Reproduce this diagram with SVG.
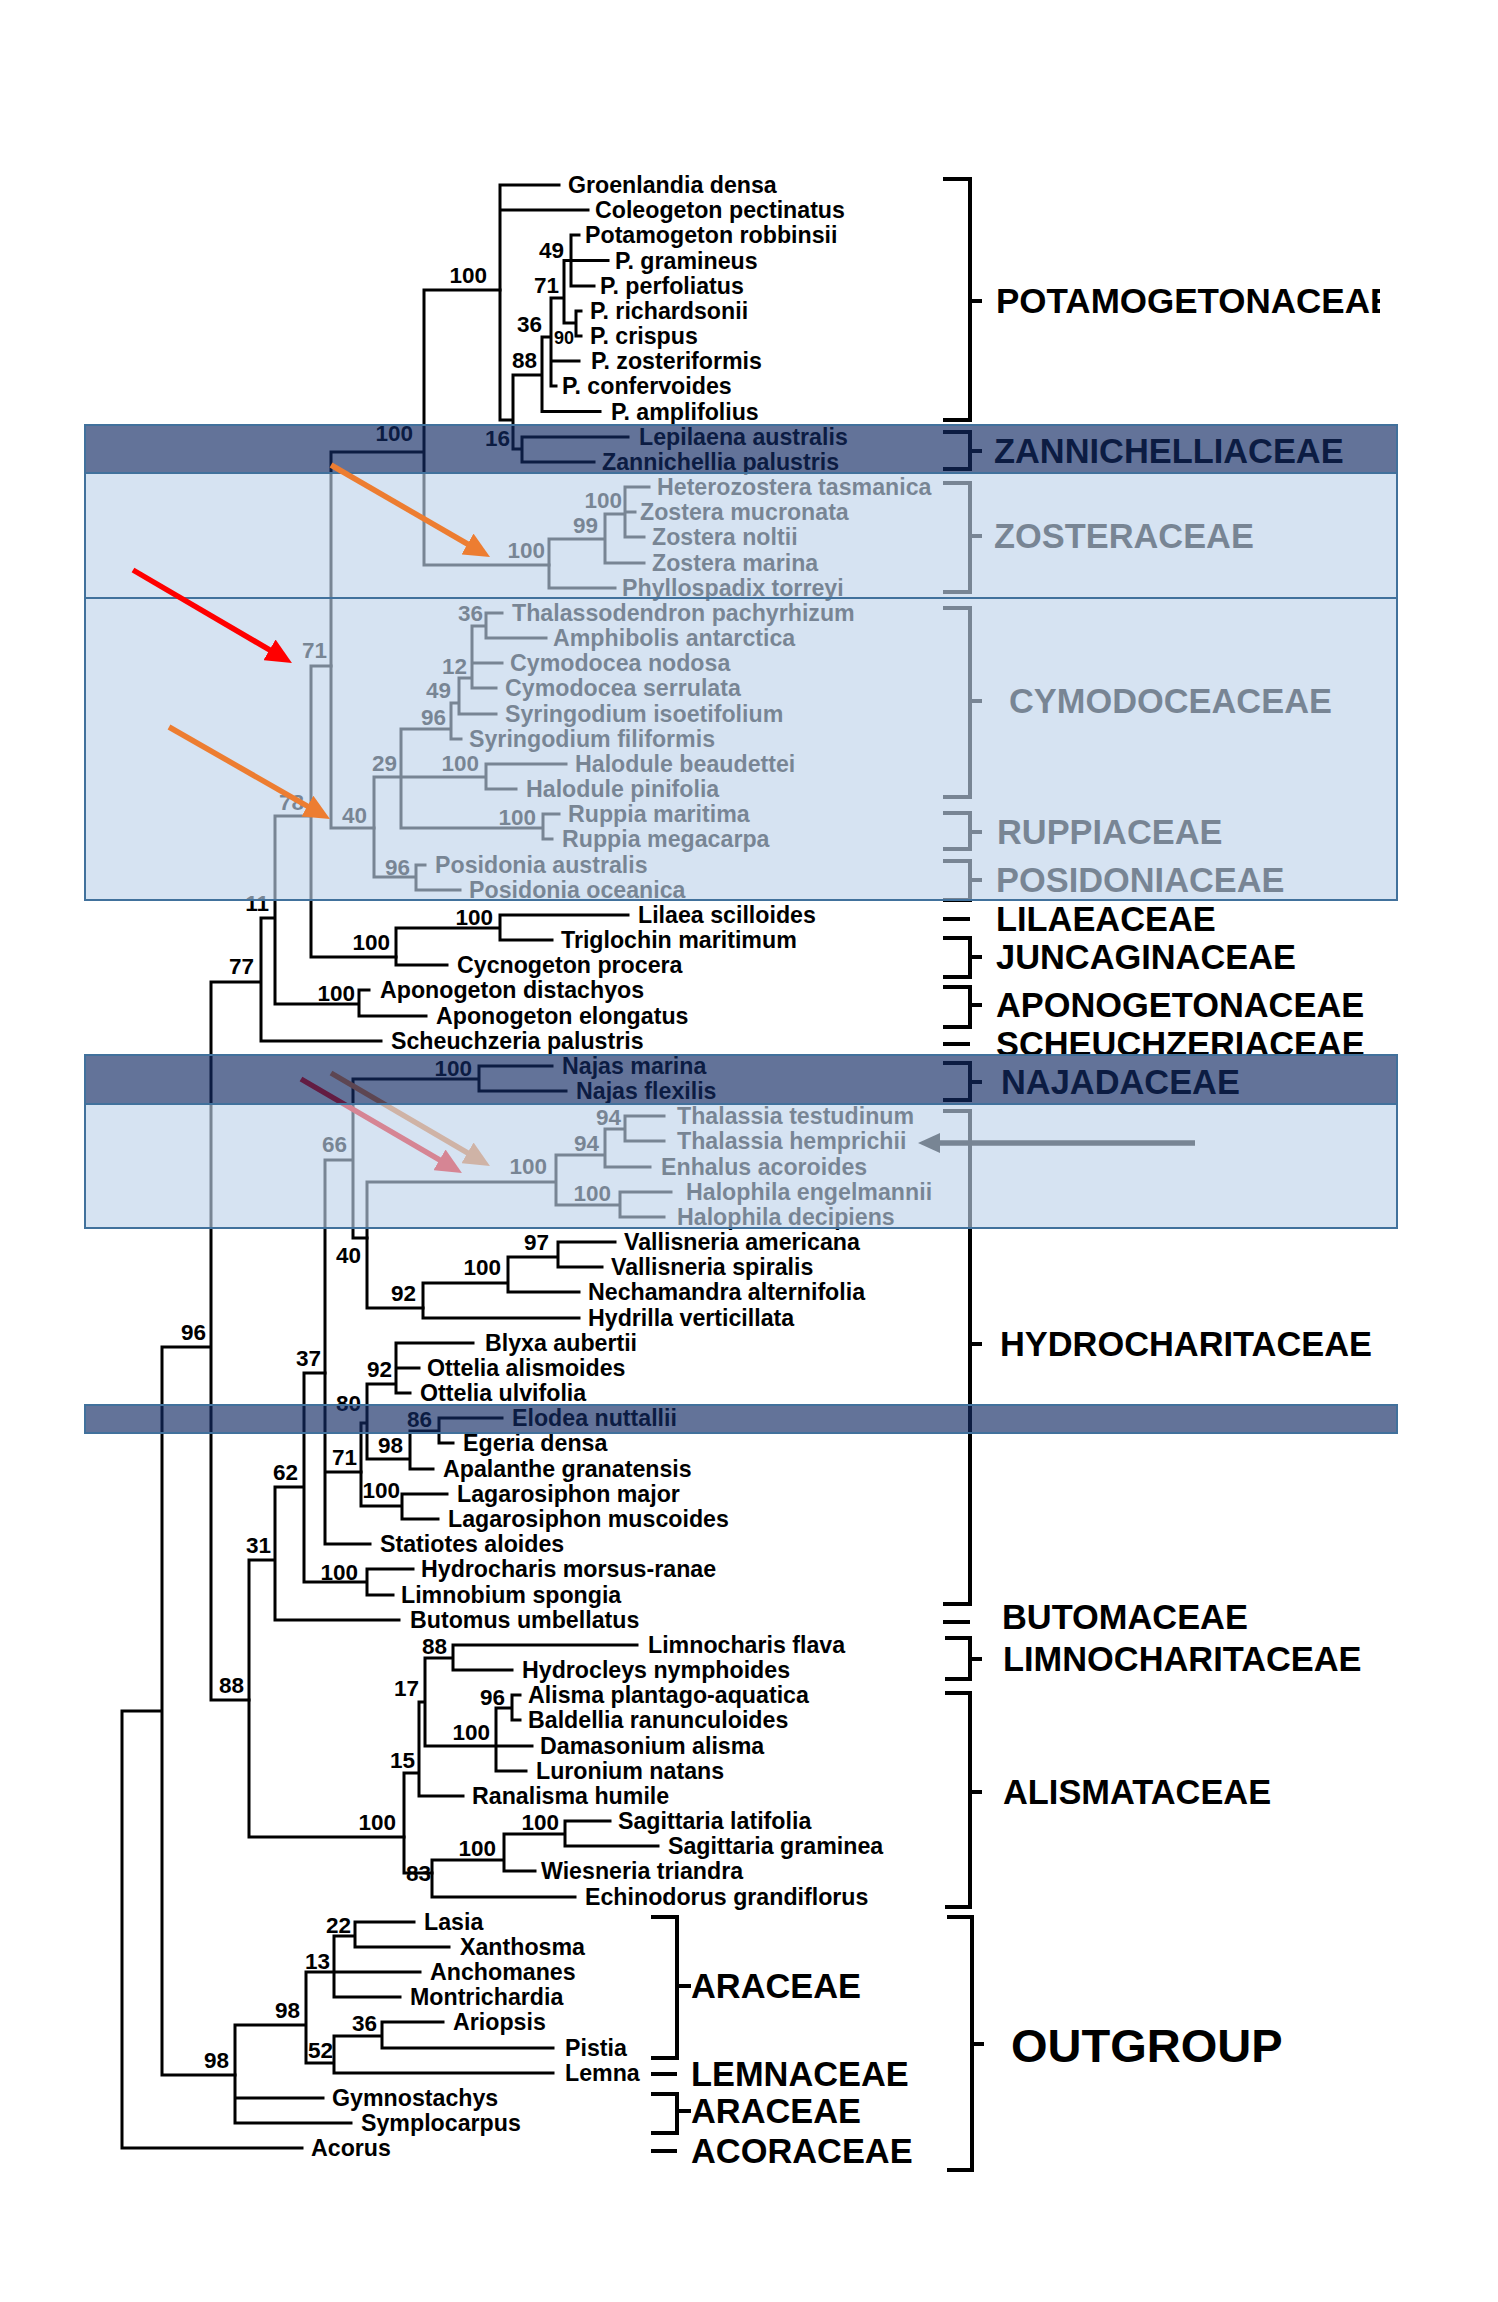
<svg xmlns="http://www.w3.org/2000/svg" width="1498" height="2302" viewBox="0 0 1498 2302">
<defs>
<style>
text{font-family:"Liberation Sans",Arial,sans-serif;font-weight:bold;fill:#000}
.t{font-size:23.2px}
.s{font-size:22.5px;text-anchor:end}
.ss{font-size:18px;text-anchor:end}
.f{font-size:34.4px}
.fp{font-size:35px}
.og{font-size:47px}
.tree{fill:none;stroke:#000;stroke-width:3;stroke-linecap:square}
.br{fill:none;stroke:#000;stroke-width:4}
.dark{fill:rgb(18,42,100);fill-opacity:0.66;stroke:#41719c;stroke-width:2}
.light{fill:rgb(190,210,235);fill-opacity:0.63;stroke:#41719c;stroke-width:2}
.ar{fill:none;stroke-width:5.5}
</style>
<marker id="ah-orange" markerUnits="userSpaceOnUse" markerWidth="26" markerHeight="24" refX="6" refY="12" orient="auto"><path d="M0,0 L26,12 L0,24 z" fill="#ED7D31"/></marker>
<marker id="ah-red" markerUnits="userSpaceOnUse" markerWidth="26" markerHeight="24" refX="6" refY="12" orient="auto"><path d="M0,0 L26,12 L0,24 z" fill="#FF0000"/></marker>
<marker id="ah-black" markerUnits="userSpaceOnUse" markerWidth="22" markerHeight="20" refX="4" refY="10" orient="auto"><path d="M0,0 L22,10 L0,20 z" fill="#000"/></marker>
<clipPath id="clipR"><rect x="0" y="0" width="1380" height="2302"/></clipPath>
</defs>
<rect x="0" y="0" width="1498" height="2302" fill="#fff"/>

<g id="connectors">
<path class="tree" d="M500 185V420H513 M500 185H559 M500 210H588 M513 375V449H522 M513 375H542 M542 337V411.5H600 M542 337H551 M551 298V386H556 M551 361H579 M551 298H564 M564 260.5V323H576 M564 260.5H571 M571 235V286H594 M571 235H579 M571 260.5H608 M576 311V336H581 M576 311H581 M522 437V462H594 M522 437H628"/>
<path class="tree" d="M424 290V565H549 M424 290H500 M331 452V828H374 M331 452H424"/>
<path class="tree" d="M549 539V588H615 M549 539H605 M605 514V563H644 M605 514H625 M625 487V537H644 M625 487H649 M625 512H635"/>
<path class="tree" d="M311 666V957H396 M311 666H331"/>
<path class="tree" d="M486 613V638H546 M486 613H502 M472 626V688H496 M472 626H486 M472 663H502 M459 678V714H496 M459 678H472 M451 703V739H461 M451 703H459 M401 729V828H543 M401 729H451 M374 777V877H416 M374 777H486 M486 764V789H516 M486 764H566 M543 814V839H552 M543 814H559 M416 865V890H460 M416 865H425"/>
<path class="tree" d="M396 928V965H447 M396 928H500 M500 915V940H552 M500 915H628"/>
<path class="tree" d="M275 816V1004H359 M275 816H311 M359 990V1016H426 M359 990H369 M261 918V1041H381 M261 918H275 M211 982V1700H249 M211 982H261 M162 1347V2075H235 M162 1347H211 M122 1711V2148H302 M122 1711H162"/>
<path class="tree" d="M249 1560V1837H404 M249 1560H275 M275 1487V1620H399 M275 1487H304 M304 1373V1582H367 M304 1373H325 M367 1569V1595H393 M367 1569H413"/>
<path class="tree" d="M325 1160V1544H370 M325 1160H353 M325 1472H361 M353 1079V1238H367 M353 1079H479 M479 1066V1091H566 M479 1066H552"/>
<path class="tree" d="M367 1182V1308H423 M367 1182H556 M556 1155V1205H620 M556 1155H605 M605 1129V1167H650 M605 1129H625 M625 1116V1141H664 M625 1116H664 M620 1192V1217H664 M620 1192H671"/>
<path class="tree" d="M423 1283V1318H579 M423 1283H508 M508 1257V1292H579 M508 1257H558 M558 1242V1267H602 M558 1242H615"/>
<path class="tree" d="M361 1423V1506H402 M361 1423H367 M402 1494V1519H438 M402 1494H447 M367 1384V1459H410 M367 1384H396 M396 1343V1393H410 M396 1343H473 M396 1368H419 M410 1431V1469H433 M410 1431H439 M439 1418V1443H453 M439 1418H502"/>
<path class="tree" d="M404 1773V1873H432 M404 1773H419 M419 1702V1796H463 M419 1702H425 M425 1658V1746H532 M425 1658H453 M453 1645V1670H512 M453 1645H637 M496 1708V1771H526 M496 1708H512 M512 1695V1720H520 M512 1695H520"/>
<path class="tree" d="M432 1860V1897H575 M432 1860H504 M504 1834V1871H535 M504 1834H565 M565 1821V1846H658 M565 1821H610"/>
<path class="tree" d="M235 2025V2123H351 M235 2025H306 M235 2098H323 M306 1972V2063H334 M306 1972H420 M334 1936V1997H400 M334 1936H355 M355 1922V1947H449 M355 1922H414 M334 2036V2073H553 M334 2036H382 M382 2022V2048H553 M382 2022H443"/>
<g id="brackets">
<path class="br" d="M943 179H970V420H943 M970 301H982"/>
<path class="br" d="M943 432H970V469H943 M970 451H982"/>
<path class="br" d="M943 483H970V592H943 M970 536H982"/>
<path class="br" d="M943 608H970V797H943 M970 701H982"/>
<path class="br" d="M943 813H970V849H943 M970 832H982"/>
<path class="br" d="M943 861H970V900H943 M970 880H982"/>
<path class="br" d="M943 919H970"/>
<path class="br" d="M943 938H970V977H943 M970 957H982"/>
<path class="br" d="M943 987H970V1027H943 M970 1005H982"/>
<path class="br" d="M943 1044H970"/>
<path class="br" d="M943 1063H970V1100H943 M970 1082H982"/>
<path class="br" d="M943 1111H970V1604H943 M970 1344H982"/>
<path class="br" d="M943 1622H970"/>
<path class="br" d="M945 1638H970V1679H945 M970 1659H982"/>
<path class="br" d="M945 1693H970V1907H945 M970 1792H982"/>
<path class="br" d="M947 1917H972V2170H947 M972 2044H984"/>
<path class="br" d="M651 1917H677V2058H651 M677 1986H691"/>
<path class="br" d="M651 2074H677"/>
<path class="br" d="M651 2094H677V2133H651 M677 2111H691"/>
<path class="br" d="M651 2151H677"/>
</g>
</g>

<g id="potamogetonaceae">
<text class="t" x="568" y="193">Groenlandia densa</text>
<text class="t" x="595" y="218">Coleogeton pectinatus</text>
<text class="t" x="585" y="243">Potamogeton robbinsii</text>
<text class="t" x="615" y="268.5">P. gramineus</text>
<text class="t" x="600" y="294">P. perfoliatus</text>
<text class="t" x="590" y="319">P. richardsonii</text>
<text class="t" x="590" y="344">P. crispus</text>
<text class="t" x="591" y="369">P. zosteriformis</text>
<text class="t" x="562" y="394">P. confervoides</text>
<text class="t" x="611" y="419.5">P. amplifolius</text>
<text class="s" x="487" y="283">100</text>
<text class="s" x="564" y="258">49</text>
<text class="s" x="559" y="293">71</text>
<text class="s" x="542" y="332">36</text>
<text class="ss" x="574" y="344">90</text>
<text class="s" x="537" y="368">88</text>
<text class="s" x="510" y="446">16</text>
<text class="s" x="413" y="441">100</text>
<text class="fp" x="996" y="313" clip-path="url(#clipR)">POTAMOGETONACEAE</text>
</g>
<g id="zannichelliaceae">
<text class="t" x="639" y="445">Lepilaena australis</text>
<text class="t" x="602" y="470">Zannichellia palustris</text>
<text class="f" x="994" y="463">ZANNICHELLIACEAE</text>
</g>
<g id="zosteraceae">
<text class="t" x="657" y="495">Heterozostera tasmanica</text>
<text class="t" x="640" y="520">Zostera mucronata</text>
<text class="t" x="652" y="545">Zostera noltii</text>
<text class="t" x="652" y="571">Zostera marina</text>
<text class="t" x="622" y="596">Phyllospadix torreyi</text>
<text class="s" x="545" y="558">100</text>
<text class="s" x="598" y="533">99</text>
<text class="s" x="622" y="508">100</text>
<text class="s" x="327" y="658">71</text>
<text class="f" x="994" y="548">ZOSTERACEAE</text>
</g>
<g id="cymodoceaceae">
<text class="t" x="512" y="621">Thalassodendron pachyrhizum</text>
<text class="t" x="553" y="646">Amphibolis antarctica</text>
<text class="t" x="510" y="671">Cymodocea nodosa</text>
<text class="t" x="505" y="696">Cymodocea serrulata</text>
<text class="t" x="505" y="722">Syringodium isoetifolium</text>
<text class="t" x="469" y="747">Syringodium filiformis</text>
<text class="t" x="575" y="772">Halodule beaudettei</text>
<text class="t" x="526" y="797">Halodule pinifolia</text>
<text class="s" x="483" y="621">36</text>
<text class="s" x="467" y="674">12</text>
<text class="s" x="451" y="698">49</text>
<text class="s" x="446" y="725">96</text>
<text class="s" x="397" y="771">29</text>
<text class="s" x="479" y="771">100</text>
<text class="f" x="1009" y="713">CYMODOCEACEAE</text>
</g>
<g id="ruppiaceae">
<text class="t" x="568" y="822">Ruppia maritima</text>
<text class="t" x="562" y="847">Ruppia megacarpa</text>
<text class="s" x="536" y="825">100</text>
<text class="s" x="367" y="823">40</text>
<text class="f" x="997" y="844">RUPPIACEAE</text>
</g>
<g id="posidoniaceae">
<text class="t" x="435" y="873">Posidonia australis</text>
<text class="t" x="469" y="898">Posidonia oceanica</text>
<text class="s" x="410" y="875">96</text>
<text class="s" x="304" y="810">78</text>
<text class="f" x="996" y="892">POSIDONIACEAE</text>
</g>
<g id="lilaeaceae">
<text class="t" x="638" y="923">Lilaea scilloides</text>
<text class="f" x="996" y="931">LILAEACEAE</text>
</g>
<g id="juncaginaceae">
<text class="t" x="561" y="948">Triglochin maritimum</text>
<text class="t" x="457" y="973">Cycnogeton procera</text>
<text class="s" x="493" y="925">100</text>
<text class="s" x="390" y="950">100</text>
<text class="s" x="269" y="911">11</text>
<text class="f" x="996" y="969">JUNCAGINACEAE</text>
</g>
<g id="aponogetonaceae">
<text class="t" x="380" y="998">Aponogeton distachyos</text>
<text class="t" x="436" y="1024">Aponogeton elongatus</text>
<text class="s" x="355" y="1001">100</text>
<text class="s" x="254" y="974">77</text>
<text class="f" x="996" y="1017">APONOGETONACEAE</text>
</g>
<g id="scheuchzeriaceae">
<text class="t" x="391" y="1049">Scheuchzeria palustris</text>
<text class="f" x="996" y="1056">SCHEUCHZERIACEAE</text>
</g>
<g id="najadaceae">
<text class="t" x="562" y="1074">Najas marina</text>
<text class="t" x="576" y="1099">Najas flexilis</text>
<text class="s" x="472" y="1076">100</text>
<text class="s" x="347" y="1152">66</text>
<text class="f" x="1001" y="1094">NAJADACEAE</text>
</g>
<g id="hydrocharitaceae">
<text class="t" x="677" y="1124">Thalassia testudinum</text>
<text class="t" x="677" y="1149">Thalassia hemprichii</text>
<text class="t" x="661" y="1175">Enhalus acoroides</text>
<text class="t" x="686" y="1200">Halophila engelmannii</text>
<text class="t" x="677" y="1225">Halophila decipiens</text>
<text class="t" x="624" y="1250">Vallisneria americana</text>
<text class="t" x="611" y="1275">Vallisneria spiralis</text>
<text class="t" x="588" y="1300">Nechamandra alternifolia</text>
<text class="t" x="588" y="1326">Hydrilla verticillata</text>
<text class="t" x="485" y="1351">Blyxa aubertii</text>
<text class="t" x="427" y="1376">Ottelia alismoides</text>
<text class="t" x="420" y="1401">Ottelia ulvifolia</text>
<text class="t" x="512" y="1426">Elodea nuttallii</text>
<text class="t" x="463" y="1451">Egeria densa</text>
<text class="t" x="443" y="1477">Apalanthe granatensis</text>
<text class="t" x="457" y="1502">Lagarosiphon major</text>
<text class="t" x="448" y="1527">Lagarosiphon muscoides</text>
<text class="t" x="380" y="1552">Statiotes aloides</text>
<text class="t" x="421" y="1577">Hydrocharis morsus-ranae</text>
<text class="t" x="401" y="1603">Limnobium spongia</text>
<text class="s" x="547" y="1174">100</text>
<text class="s" x="599" y="1151">94</text>
<text class="s" x="621" y="1125">94</text>
<text class="s" x="611" y="1201">100</text>
<text class="s" x="361" y="1263">40</text>
<text class="s" x="549" y="1250">97</text>
<text class="s" x="501" y="1275">100</text>
<text class="s" x="416" y="1301">92</text>
<text class="s" x="321" y="1366">37</text>
<text class="s" x="392" y="1377">92</text>
<text class="s" x="361" y="1411">80</text>
<text class="s" x="432" y="1427">86</text>
<text class="s" x="403" y="1453">98</text>
<text class="s" x="357" y="1465">71</text>
<text class="s" x="298" y="1480">62</text>
<text class="s" x="400" y="1498">100</text>
<text class="s" x="358" y="1580">100</text>
<text class="s" x="206" y="1340">96</text>
<text class="f" x="1000" y="1356">HYDROCHARITACEAE</text>
</g>
<g id="butomaceae">
<text class="t" x="410" y="1628">Butomus umbellatus</text>
<text class="s" x="271" y="1553">31</text>
<text class="f" x="1002" y="1629">BUTOMACEAE</text>
</g>
<g id="limnocharitaceae">
<text class="t" x="648" y="1653">Limnocharis flava</text>
<text class="t" x="522" y="1678">Hydrocleys nymphoides</text>
<text class="s" x="447" y="1654">88</text>
<text class="s" x="244" y="1693">88</text>
<text class="f" x="1003" y="1671">LIMNOCHARITACEAE</text>
</g>
<g id="alismataceae">
<text class="t" x="528" y="1703">Alisma plantago-aquatica</text>
<text class="t" x="528" y="1728">Baldellia ranunculoides</text>
<text class="t" x="540" y="1754">Damasonium alisma</text>
<text class="t" x="536" y="1779">Luronium natans</text>
<text class="t" x="472" y="1804">Ranalisma humile</text>
<text class="t" x="618" y="1829">Sagittaria latifolia</text>
<text class="t" x="668" y="1854">Sagittaria graminea</text>
<text class="t" x="541" y="1879">Wiesneria triandra</text>
<text class="t" x="585" y="1905">Echinodorus grandiflorus</text>
<text class="s" x="419" y="1696">17</text>
<text class="s" x="505" y="1705">96</text>
<text class="s" x="490" y="1740">100</text>
<text class="s" x="415" y="1768">15</text>
<text class="s" x="396" y="1830">100</text>
<text class="s" x="559" y="1830">100</text>
<text class="s" x="496" y="1856">100</text>
<text class="s" x="431" y="1881">83</text>
<text class="f" x="1003" y="1804">ALISMATACEAE</text>
</g>
<g id="outgroup">
<text class="t" x="424" y="1930">Lasia</text>
<text class="t" x="460" y="1955">Xanthosma</text>
<text class="t" x="430" y="1980">Anchomanes</text>
<text class="t" x="410" y="2005">Montrichardia</text>
<text class="t" x="453" y="2030">Ariopsis</text>
<text class="t" x="565" y="2056">Pistia</text>
<text class="t" x="565" y="2081">Lemna</text>
<text class="t" x="332" y="2106">Gymnostachys</text>
<text class="t" x="361" y="2131">Symplocarpus</text>
<text class="t" x="311" y="2156">Acorus</text>
<text class="s" x="351" y="1933">22</text>
<text class="s" x="330" y="1969">13</text>
<text class="s" x="300" y="2018">98</text>
<text class="s" x="377" y="2031">36</text>
<text class="s" x="333" y="2058">52</text>
<text class="s" x="229" y="2068">98</text>
<text class="f" x="691" y="1998">ARACEAE</text>
<text class="f" x="691" y="2086">LEMNACEAE</text>
<text class="f" x="691" y="2123">ARACEAE</text>
<text class="f" x="691" y="2163">ACORACEAE</text>
<text class="og" x="1011" y="2062">OUTGROUP</text>
</g>

<g id="arrows-under">
<path class="ar" stroke="#FF0000" d="M301 1079L444.7 1162.9" marker-end="url(#ah-red)"/>
<path class="ar" stroke="#ED7D31" d="M331 1073L472.7 1155.9" marker-end="url(#ah-orange)"/>
<path class="ar" stroke="#000" d="M1195 1143H936" marker-end="url(#ah-black)"/>
</g>

<g id="bands">
<rect class="dark" x="85" y="425" width="1312" height="48"/>
<rect class="light" x="85" y="473" width="1312" height="125"/>
<rect class="light" x="85" y="598" width="1312" height="302"/>
<rect class="dark" x="85" y="1055" width="1312" height="49"/>
<rect class="light" x="85" y="1104" width="1312" height="124"/>
<rect class="dark" x="85" y="1405" width="1312" height="28"/>
</g>

<g id="arrows-over">
<path class="ar" stroke="#ED7D31" d="M331 465L472.7 547" marker-end="url(#ah-orange)"/>
<path class="ar" stroke="#FF0000" d="M133 570L274.7 652.9" marker-end="url(#ah-red)"/>
<path class="ar" stroke="#ED7D31" d="M169 727L312.6 809.1" marker-end="url(#ah-orange)"/>
</g>
</svg>
